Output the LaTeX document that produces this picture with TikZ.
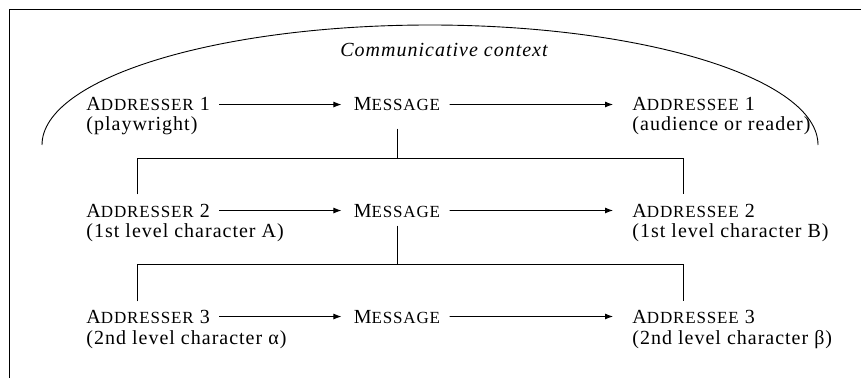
\documentclass[tikz,border=0pt]{standalone}
\usepackage{fontspec}
\setmainfont{Liberation Serif}[LetterSpace=5]
\usetikzlibrary{arrows.meta}
\newcommand{\fakesc}[2]{#1{\fontsize{17}{17}\selectfont #2}}

\begin{document}
\begin{tikzpicture}[x=1pt,y=1pt,
  line width=0.9pt,
  my label/.style={anchor=base west, inner sep=0pt, font=\fontsize{20}{20}\selectfont},
  my msg/.style={my label, anchor=base},
  my arrow/.style={-{Latex[length=8pt,width=6pt]}, shorten <=9pt, shorten >=12pt},
  ]
  \useasboundingbox (0,0) rectangle (861,378);
  % frame and context curve
  \draw (9,0) -- (9,369) -- (861,369);
  \draw (42,233) arc[start angle=180, end angle=0, x radius=388, y radius=120];
  \node[my msg, font=\fontsize{20}{20}\selectfont\itshape] (ctx) at (444,321) {Communicative context};

  % level 1
  \node[my label] (addr1) at (86,267) {\fakesc{A}{DDRESSER} 1};
  \node[my label] (addr1r) at (86,247) {(playwright)};
  \node[my msg] (msg1) at (397,267) {\fakesc{M}{ESSAGE}};
  \node[my label] (adee1) at (632,267) {\fakesc{A}{DDRESSEE} 1};
  \node[my label] (adee1r) at (632,247) {(audience or reader)};
  \draw[my arrow] (addr1) -- (msg1);
  \draw[my arrow, shorten >=19pt] (msg1) -- (adee1);

  % level 2
  \node[my label] (addr2) at (86,161) {\fakesc{A}{DDRESSER} 2};
  \node[my label] (addr2r) at (86,141) {(1st level character A)};
  \node[my msg] (msg2) at (397,161) {\fakesc{M}{ESSAGE}};
  \node[my label] (adee2) at (632,161) {\fakesc{A}{DDRESSEE} 2};
  \node[my label] (adee2r) at (632,141) {(1st level character B)};
  \draw[my arrow] (addr2) -- (msg2);
  \draw[my arrow, shorten >=19pt] (msg2) -- (adee2);

  % level 3
  \node[my label] (addr3) at (86,55) {\fakesc{A}{DDRESSER} 3};
  \node[my label] (addr3r) at (86,34) {(2nd level character α)};
  \node[my msg] (msg3) at (397,55) {\fakesc{M}{ESSAGE}};
  \node[my label] (adee3) at (632,55) {\fakesc{A}{DDRESSEE} 3};
  \node[my label] (adee3r) at (632,34) {(2nd level character β)};
  \draw[my arrow] (addr3) -- (msg3);
  \draw[my arrow, shorten >=19pt] (msg3) -- (adee3);

  % embedding brackets
  \coordinate (bar1L) at (137,220);
  \coordinate (bar1R) at (683,220);
  \draw ([yshift=-17pt]msg1.south) -- (msg1 |- bar1L);
  \draw ([yshift=9pt]bar1L |- addr2.north) -- (bar1L) -- (bar1R) -- ([yshift=9pt]bar1R |- adee2.north);
  \coordinate (bar2L) at (137,114);
  \coordinate (bar2R) at (683,114);
  \draw ([yshift=-8pt]msg2.south) -- (msg2 |- bar2L);
  \draw ([yshift=8pt]bar2L |- addr3.north) -- (bar2L) -- (bar2R) -- ([yshift=8pt]bar2R |- adee3.north);
\end{tikzpicture}
\end{document}
